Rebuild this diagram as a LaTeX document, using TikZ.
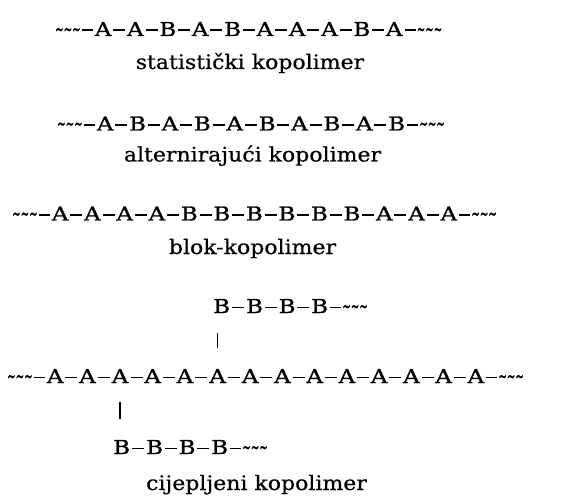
\documentclass[tikz,border=0pt]{standalone}
\usepackage{graphicx}
\usepackage{fontspec}
\setmainfont{DejaVu Serif}
\newfontfamily\chainfont[FakeStretch=1.2,FakeBold=1.2]{DejaVu Serif}
\newfontfamily\labelfont[FakeStretch=1.1,FakeBold=0.5]{DejaVu Serif}
\newcommand\bd{\kern1.8bp\rule[4.8bp]{12bp}{1.7bp}\kern1.8bp}
\newcommand\tl{\scalebox{0.44}[1.05]{\symbol{"7E}}}
\newcommand\lgrp{\tl\tl\tl\kern1bp\rule[4.8bp]{11bp}{1.7bp}\kern2.2bp}
\newcommand\rgrp{\kern2.2bp\rule[4.8bp]{11bp}{1.7bp}\kern1bp\tl\tl\tl}
\tikzset{
  chain/.style={inner sep=0pt, anchor=base west, font=\chainfont\fontsize{19.2bp}{23bp}\selectfont},
  label/.style={inner sep=0pt, anchor=base, font=\labelfont\fontsize{20bp}{24bp}\selectfont},
  bar/.style={line width=1.7bp}
}
\begin{document}
\begin{tikzpicture}[x=1bp,y=-1bp]
\useasboundingbox (0,0) rectangle (577,497);
% statistical
\node[chain] (stat) at (55,36) {\lgrp A\bd A\bd B\bd A\bd B\bd A\bd A\bd A\bd B\bd A\rgrp};
\node[label] (statl) at (250,69) {statistički kopolimer};
% alternating
\node[chain] (alt) at (57,130.5) {\lgrp A\bd B\bd A\bd B\bd A\bd B\bd A\bd B\bd A\bd B\rgrp};
\node[label] (altl) at (252.5,161.5) {alternirajući kopolimer};
% block
\node[chain] (blok) at (12,220.5) {\lgrp A\bd A\bd A\bd A\bd B\bd B\bd B\bd B\bd B\bd B\bd A\bd A\bd A\rgrp};
\node[label] (blokl) at (252.5,254) {blok-kopolimer};
% graft
\node[chain] (ub1) at (213,313) {B};
\node[chain] (ubr) at (ub1.base east) {\bd B\bd B\bd B\rgrp};
\node[chain] (m1) at (7,383) {\lgrp A\bd A\bd};
\node[chain] (ma3) at (m1.base east) {A};
\node[chain] (m2) at (ma3.base east) {\bd A\bd A\bd};
\node[chain] (ma6) at (m2.base east) {A};
\node[chain] (m3) at (ma6.base east) {\bd A\bd A\bd A\bd A\bd A\bd A\bd A\bd A\rgrp};
\node[chain] (lb1) at (113,454) {B};
\node[chain] (lbr) at (lb1.base east) {\bd B\bd B\bd B\rgrp};
\node[label] (cijl) at (256.5,490) {cijepljeni kopolimer};
\draw[bar, shorten <=20bp, shorten >=21bp] (ma6.north |- ub1.south) -- (ma6.north);
\draw[bar, shorten <=19bp, shorten >=21bp] (ma3.south) -- (ma3.south |- lb1.north);
\end{tikzpicture}
\end{document}
